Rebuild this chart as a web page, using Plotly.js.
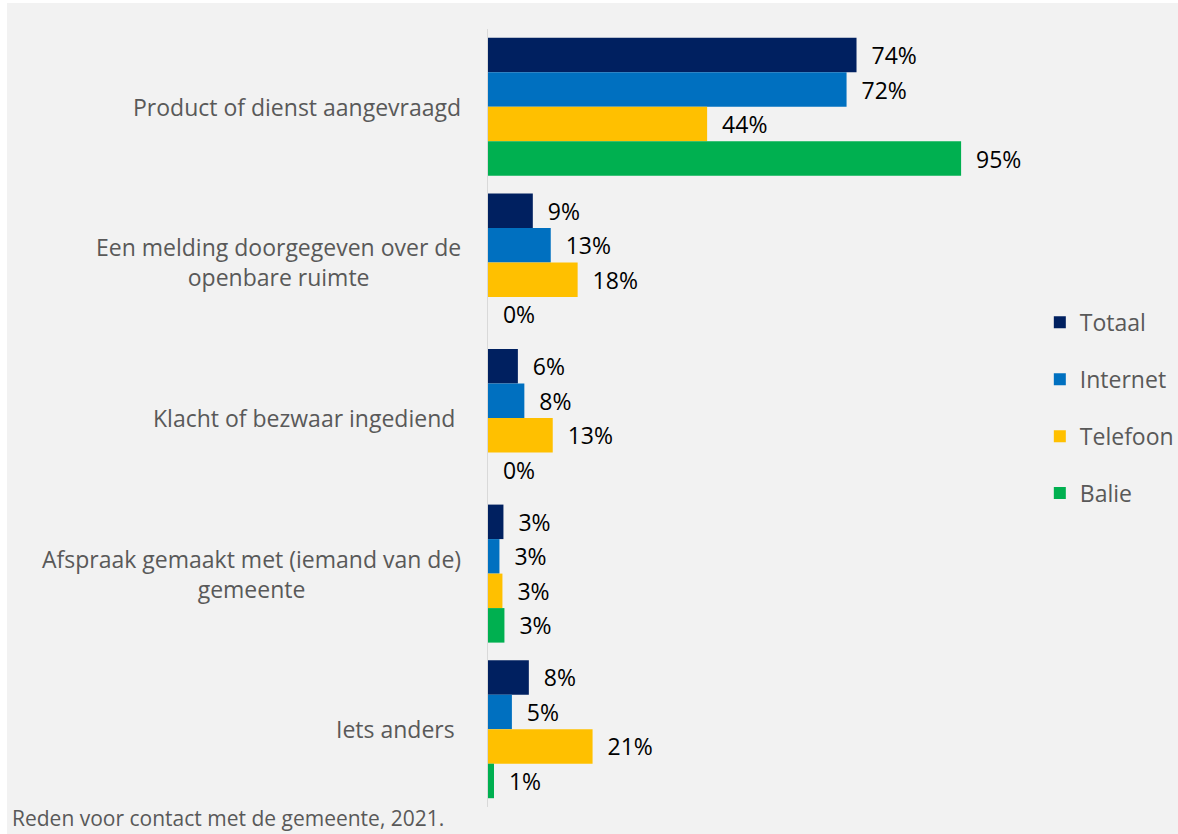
<!DOCTYPE html>
<html>
<head>
<meta charset="utf-8">
<script src="https://cdn.plot.ly/plotly-3.0.1.min.js"></script>
<style>
html,body{margin:0;padding:0;background:#ffffff;}
#chart{position:absolute;left:7px;top:3px;width:1171px;height:831px;}
</style>
</head>
<body>
<div id="chart"></div>
<script>
const categories = [
  "Product of dienst aangevraagd",
  "Een melding doorgegeven over de<br>openbare ruimte",
  "Klacht of bezwaar ingediend\u00a0",
  "Afspraak gemaakt met (iemand van de)<br>gemeente",
  "Iets anders\u00a0"
];
const seriesNames = ["Totaal", "Internet", "Telefoon", "Balie"];
const totaal   = [74, 9, 6, 3.1, 8.2];
const internet = [72, 12.6, 7.3, 2.3, 4.8];
const telefoon = [44, 18, 13, 2.9, 21];
const balie    = [95, 0, 0, 3.3, 1.2];
const totaalLabels   = ["74%", "9%", "6%", "3%", "8%"];
const internetLabels = ["72%", "13%", "8%", "3%", "5%"];
const telefoonLabels = ["44%", "18%", "13%", "3%", "21%"];
const balieLabels    = ["95%", "0%", "0%", "3%", "1%"];
const colors = ["#002060", "#0070C0", "#FFC000", "#00B050"];
const footnote = "Reden voor contact met de gemeente, 2021.";

const seriesValues = [totaal, internet, telefoon, balie];
const seriesLabels = [totaalLabels, internetLabels, telefoonLabels, balieLabels];
const FONT = "Open Sans, sans-serif";

const traces = seriesNames.map((name, i) => ({
  type: "bar",
  orientation: "h",
  name: name,
  legendgroup: name,
  x: seriesValues[i],
  y: categories,
  marker: {color: colors[i], line: {width: 0}},
  text: seriesLabels[i].map(t => "\u00a0\u00a0" + t),
  textposition: "outside",
  constraintext: "none",
  cliponaxis: false,
  textfont: {family: FONT, size: 23, color: "#000000"},
  hoverinfo: "skip"
}));

const annotations = categories.map(c => ({
  xref: "paper", yref: "y", x: 0, y: c,
  text: c, showarrow: false, xanchor: "right", yanchor: "middle",
  align: "center", xshift: -25,
  font: {family: FONT, size: 23, color: "#595959"}
}));
annotations.push({
  xref: "paper", yref: "paper", x: (10 - 488) / 498, y: 0,
  xanchor: "left", yanchor: "middle", yshift: -11,
  text: footnote, showarrow: false,
  font: {family: FONT, size: 21, color: "#595959"}
});

const layout = {
  width: 1171, height: 831,
  paper_bgcolor: "#f2f2f2",
  plot_bgcolor: "#f2f2f2",
  margin: {l: 481, r: 192, t: 26, b: 27, pad: 0, autoexpand: false},
  barmode: "group",
  bargap: 0.113,
  bargroupgap: 0,
  showlegend: true,
  legend: {
    xref: "container", x: 0.882, xanchor: "left",
    y: 0.513, yanchor: "middle",
    traceorder: "grouped", tracegroupgap: 24,
    bgcolor: "rgba(0,0,0,0)",
    font: {family: FONT, size: 23, color: "#595959"}
  },
  xaxis: {
    range: [0, 100], showgrid: false, zeroline: false,
    showticklabels: false, showline: false, ticks: ""
  },
  yaxis: {
    type: "category", autorange: "reversed",
    showgrid: false, zeroline: false, showticklabels: false,
    showline: true, linecolor: "#d9d9d9", linewidth: 1.5, ticks: ""
  },
  annotations: annotations,
  font: {family: FONT}
};

Plotly.newPlot("chart", traces, layout, {displayModeBar: false, staticPlot: true});
</script>
</body>
</html>
